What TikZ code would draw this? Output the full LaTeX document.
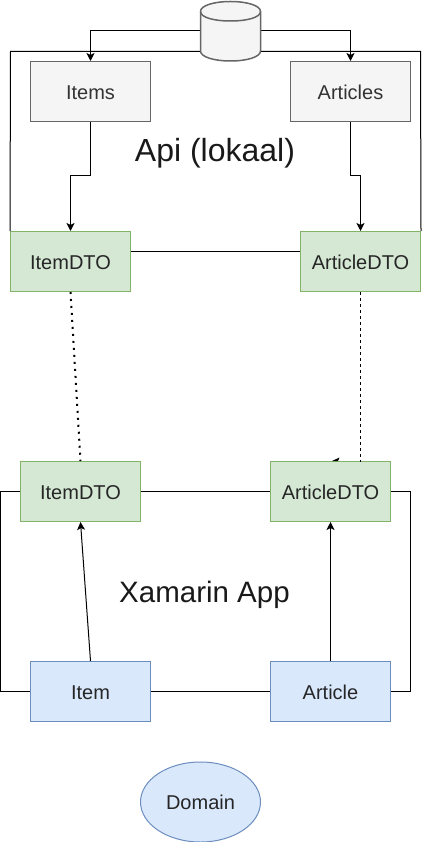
\documentclass[tikz,border=0pt]{standalone}
\usepackage{fontspec}
\setmainfont{Liberation Sans}
\usetikzlibrary{arrows.meta,shapes.geometric}

\definecolor{greyfill}{HTML}{F5F5F5}
\definecolor{greyline}{HTML}{666666}
\definecolor{greytext}{HTML}{333333}
\definecolor{greenfill}{HTML}{D5E8D4}
\definecolor{greenline}{HTML}{82B366}
\definecolor{bluefill}{HTML}{DAE8FC}
\definecolor{blueline}{HTML}{6C8EBF}

\begin{document}
\begin{tikzpicture}[x=1pt,y=-1pt,line width=1pt,>={Stealth[length=8pt,width=8pt,inset=2pt]},
	main node/.style={rectangle,draw,minimum width=120pt,minimum height=60pt,inner sep=0pt,text height=15.5pt,text depth=0pt,font=\fontsize{20}{24}\selectfont},
	source node/.style={main node,draw=greyline,fill=greyfill,text=greytext},
	dto node/.style={main node,draw=greenline,fill=greenfill,text=black!85},
	model node/.style={main node,draw=blueline,fill=bluefill,text=black!85},
	title node/.style={anchor=base,text=black!90}]

	\useasboundingbox (0,0) rectangle (422,842);

	\node[source node] (items) at (90.5,91.5) {Items};
	\node[source node] (articles) [right of = items,node distance=260pt] {Articles};
	\node[dto node] (apiitem) at (70.5,261.5) {ItemDTO};
	\node[dto node] (apiarticle) [right of = apiitem,node distance=290pt] {ArticleDTO};
	\node[dto node] (appitem) at (80.5,491.5) {ItemDTO};
	\node[dto node] (apparticle) [right of = appitem,node distance=250pt] {ArticleDTO};
	\node[model node] (item) at (90.5,691.5) {Item};
	\node[model node] (article) [right of = item,node distance=240pt] {Article};
	\node[main node,ellipse,minimum width=120pt,minimum height=80pt,draw=blueline,fill=bluefill,text=black!85] (domain) at (200.5,802) {Domain};

	\node[title node,font=\fontsize{32}{36}\selectfont] (apititle) at (215,162) {Api (lokaal)};
	\node[title node,font=\fontsize{29.5}{36}\selectfont] (apptitle) at (204.5,602.2) {Xamarin App};

	\node[minimum width=60pt,minimum height=60pt,inner sep=0pt,outer sep=0pt] (db) at (230.5,31) {};
	\coordinate (dbleft) at (db.west);
	\coordinate (dbright) at (db.east);
	\coordinate (dblow) at ([yshift=-20.5pt]db.west);
	\coordinate (dbrlow) at ([yshift=-20.5pt]db.east);

	% from the database
	\draw[->] (dbleft) -| (items.north);
	\draw[->] (dbright) -| (articles.north);
	\draw (dblow) -- (10.5,51.5) -- (apiitem.north west);
	\draw (dbrlow) -- (420.5,51.5) -- (apiarticle.north east);

	% api
	\draw[->] (items.south) -- (90.5,176) -- (70.5,176) -- (apiitem.north);
	\draw[->] (articles.south) -- (350.5,176) -- (360.5,176) -- (apiarticle.north);
	\draw (apiitem.east |- 0,251.5) -- (apiarticle.west |- 0,251.5);

	% api to app
	\draw[line width=2pt,dash pattern=on 2pt off 5pt] (apiitem.south) -- (appitem.north);
	\draw[dash pattern=on 3pt off 3pt] (apiarticle.south) -- (360.5,461.5);
	\fill (332,461) -- (339.5,457.5) -- (338,461) -- cycle;

	% app
	\draw (appitem) -- (apparticle);
	\draw (item) -- (article);
	\draw (appitem.west) -- (0.5,491.5) -- (0.5,691.5) -- (item.west);
	\draw (apparticle.east) -- (410.5,491.5) -- (410.5,691.5) -- (article.east);
	\draw[->] (item.north) -- (appitem.south);
	\draw[->] (article.north) -- (apparticle.south);

	% database on top
	\draw[draw=greyline,fill=greyfill,line width=1.5pt] (200.5,11.5)
		.. controls (200.5,5.5) and (214,1.5) .. (230.5,1.5)
		.. controls (247,1.5) and (260.5,5.5) .. (260.5,11.5)
		-- (260.5,51)
		.. controls (260.5,57) and (247,61) .. (230.5,61)
		.. controls (214,61) and (200.5,57) .. (200.5,51) -- cycle;
	\draw[draw=greyline,line width=1.5pt] (200.5,11.5)
		.. controls (200.5,17.5) and (214,21) .. (230.5,21)
		.. controls (247,21) and (260.5,17.5) .. (260.5,11.5);

\end{tikzpicture}
\end{document}
